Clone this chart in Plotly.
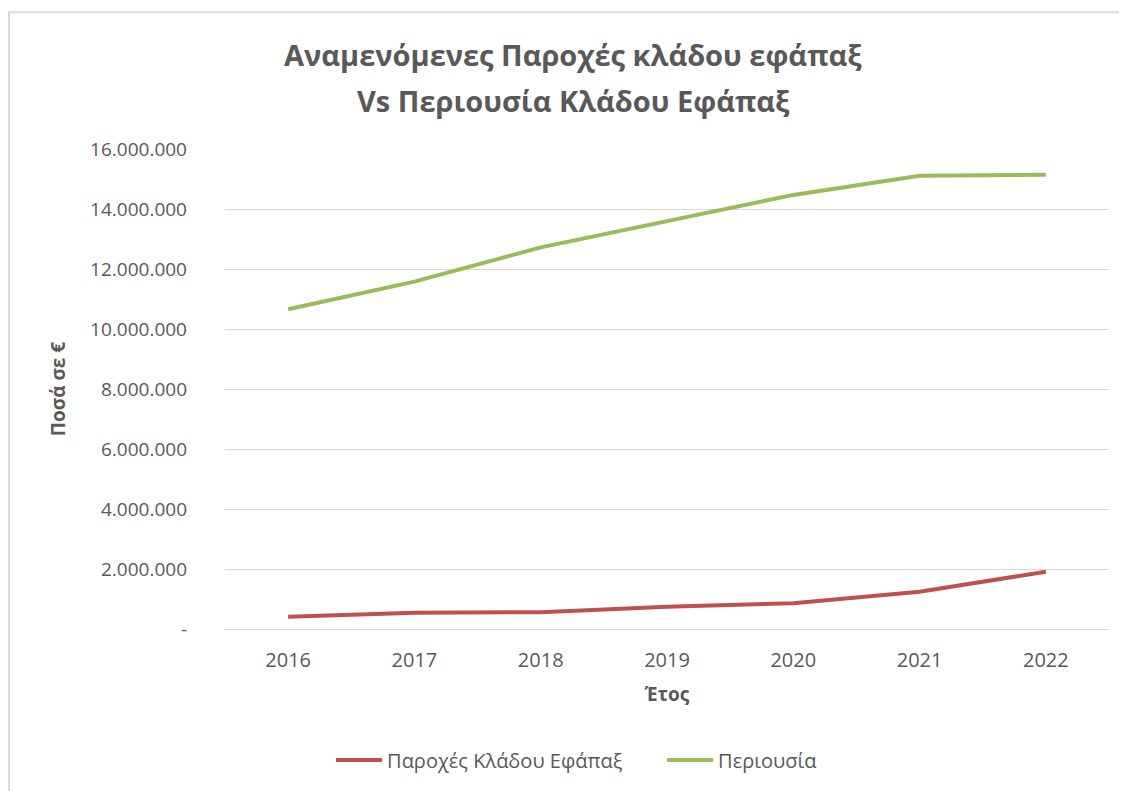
import plotly.graph_objects as go

# Values (euro)
years = ["2016", "2017", "2018", "2019", "2020", "2021", "2022"]
paroxes = [410000, 540000, 560000, 740000, 860000, 1240000, 1910000]
periousia = [10660000, 11580000, 12720000, 13580000, 14470000, 15110000, 15140000]

y_tickvals = [0, 2000000, 4000000, 6000000, 8000000, 10000000, 12000000, 14000000, 16000000]
y_ticktext = ["-", "2.000.000", "4.000.000", "6.000.000", "8.000.000",
              "10.000.000", "12.000.000", "14.000.000", "16.000.000"]

title_lines = ["Αναμενόμενες Παροχές κλάδου εφάπαξ", "Vs Περιουσία Κλάδου Εφάπαξ"]

font_family = "Open Sans, Noto Sans, sans-serif"
grey = "#595959"

fig = go.Figure()

fig.add_trace(go.Scatter(
    x=years, y=paroxes, mode="lines",
    name="Παροχές Κλάδου Εφάπαξ",
    line=dict(color="#C0504D", width=4)
))
fig.add_trace(go.Scatter(
    x=years, y=periousia, mode="lines",
    name="Περιουσία",
    line=dict(color="#9BBB59", width=4)
))

# page is drawn with an 8px body margin, so the figure is 8px smaller
fig.update_layout(
    width=1119, height=783,
    paper_bgcolor="white", plot_bgcolor="white",
    font=dict(family=font_family, color=grey, size=19),
    margin=dict(l=217, r=18, t=141, b=162),
    legend=dict(
        orientation="h", x=0.12, xanchor="left", y=-0.273, yanchor="middle",
        font=dict(size=20, color=grey), itemwidth=46,
        entrywidth=270, entrywidthmode="pixels"
    ),
    showlegend=True,
)

# two title lines placed separately to get the wide line spacing
for txt, ypos in zip(title_lines, [1.196, 1.102]):
    fig.add_annotation(text="<b>" + txt + "</b>", xref="paper", yref="paper",
                       x=0.394, y=ypos, xanchor="center", yanchor="middle",
                       showarrow=False, font=dict(size=29, color=grey))

fig.update_xaxes(
    type="category", range=[-0.5, 6.5],
    showgrid=False, showline=True, linecolor="#D9D9D9", linewidth=1,
    ticks="", tickfont=dict(size=20, color=grey), ticklabelstandoff=13,
    title=dict(text="<b>Έτος</b>", font=dict(size=19, color=grey), standoff=15),
)
fig.update_yaxes(
    range=[0, 16000000], tickvals=y_tickvals, ticktext=y_ticktext,
    showgrid=True, gridcolor="#D9D9D9", gridwidth=1, zeroline=False,
    showline=False, ticks="", tickfont=dict(size=19, color=grey),
    ticklabelstandoff=37,
    title=dict(text="<b>Ποσά σε €</b>", font=dict(size=19, color=grey), standoff=19),
)

# light chart border as in the spreadsheet export
fig.add_shape(type="rect", xref="paper", yref="paper",
              x0=-0.2443, x1=1.03, y0=-0.36, y1=1.285,
              line=dict(color="#D9D9D9", width=2), layer="below")

fig.write_html("out.html")
